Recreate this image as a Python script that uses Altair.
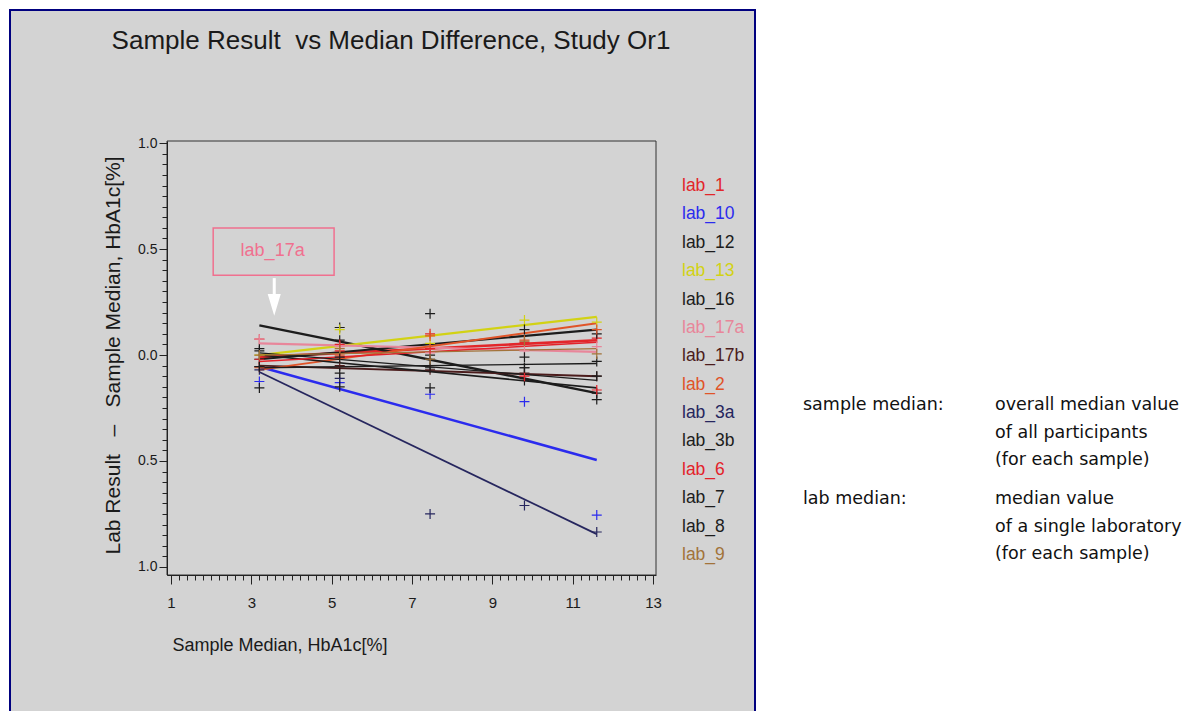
import altair as alt
import pandas as pd

# ---------------- data ----------------
labs = ["lab_1", "lab_10", "lab_12", "lab_13", "lab_16", "lab_17a", "lab_17b",
        "lab_2", "lab_3a", "lab_3b", "lab_6", "lab_7", "lab_8", "lab_9"]
sample_medians = [3.2, 5.2, 7.45, 9.8, 11.6]

# lab median - sample median, one list per sample (order as labs)
diff_s1 = [0.075, -0.125, 0.03, 0.0, -0.02, 0.075, -0.055, -0.06, -0.07, 0.02, -0.02, -0.055, -0.155, 0.0]
diff_s2 = [0.02, -0.13, 0.13, 0.12, 0.07, 0.04, -0.05, 0.0, -0.11, -0.01, 0.05, -0.085, -0.15, 0.03]
diff_s3 = [0.10, -0.185, 0.195, 0.055, 0.0, 0.01, -0.07, 0.09, -0.75, -0.155, 0.03, -0.06, -0.02, -0.02]
diff_s4 = [0.06, -0.22, -0.06, 0.165, 0.12, 0.02, -0.085, 0.07, -0.71, -0.12, -0.10, -0.01, -0.06, 0.065]
diff_s5 = [0.08, -0.755, -0.21, 0.155, 0.10, 0.04, -0.10, 0.12, -0.835, -0.18, -0.165, -0.03, -0.10, 0.005]

# fitted line values at first and last sample median
fit_start = [-0.01, -0.055, 0.14, 0.0, -0.02, 0.055, -0.05, -0.07, -0.08, 0.0, -0.03, -0.06, 0.01, 0.0]
fit_end = [0.07, -0.495, -0.18, 0.18, 0.12, 0.015, -0.10, 0.15, -0.845, -0.155, 0.06, -0.04, -0.12, 0.03]

# annotation (data coordinates)
callout_label = "lab_17a"
callout_box_x = [2.05, 5.06]
callout_box_y = [0.377, 0.60]
callout_text_pos = [3.53, 0.49]
arrow_x = 3.57
arrow_shaft_y = [0.363, 0.275]
arrow_head_y = 0.243

title_text = "Sample Result \u00a0vs Median Difference, Study Or1"
x_title = "Sample Median, HbA1c[%]"
y_title = "Lab Result \u00a0\u00a0\u2013 \u00a0\u00a0Sample Median, HbA1c[%]"
note_sample_key = "sample median:"
note_sample_text = "overall median value\nof all participants\n(for each sample)"
note_lab_key = "lab median:"
note_lab_text = "median value\nof a single laboratory\n(for each sample)"

# ---------------- styles ----------------
lab_colors = ["#e2262a", "#2b2bee", "#1c1c1c", "#d2d214", "#1c1c1c", "#e8869a", "#4b1c1c",
              "#e05428", "#26265e", "#1c1c1c", "#e3222a", "#1c1c1c", "#1c1c1c", "#a2733a"]
line_widths = [2.6, 1.2, 1.2, 1.2, 1.2, 1.2, 1.6, 1.2, 1.2, 1.2, 1.8, 1.2, 1.2, 1.2]
FONT = "Liberation Sans, Arial, sans-serif"
NOTE_FONT = "DejaVu Sans"
PANEL = "#d3d3d3"
PINK = "#f0708f"
W, H = 489, 434
OX, OY = 167, 141  # plot origin in page pixels

# ---------------- tables ----------------
pts = []
for s, col in zip(sample_medians, [diff_s1, diff_s2, diff_s3, diff_s4, diff_s5]):
    for lab, v in zip(labs, col):
        pts.append({"lab": lab, "x": s, "y": v})
pts = pd.DataFrame(pts)

fit = []
for lab, a, b in zip(labs, fit_start, fit_end):
    fit.append({"lab": lab, "x": sample_medians[0], "y": a})
    fit.append({"lab": lab, "x": sample_medians[-1], "y": b})
fit = pd.DataFrame(fit)

legend_df = pd.DataFrame({"lab": labs})
one = pd.DataFrame({"k": [0]})
box_df = pd.DataFrame({"x": [callout_box_x[0]], "x2": [callout_box_x[1]],
                       "y": [callout_box_y[0]], "y2": [callout_box_y[1]]})
ctext_df = pd.DataFrame({"x": [callout_text_pos[0]], "y": [callout_text_pos[1]], "t": [callout_label]})
shaft_df = pd.DataFrame({"x": [arrow_x], "y": [arrow_shaft_y[0]], "y2": [arrow_shaft_y[1]]})
head_df = pd.DataFrame({"x": [arrow_x], "y": [arrow_head_y]})

# ---------------- scales / axes ----------------
xs = alt.Scale(domain=[0.9, 13.075], nice=False, zero=False)
ys = alt.Scale(domain=[-1.038, 1.01], nice=False, zero=False)
color_scale = alt.Scale(domain=labs, range=lab_colors)

x_vals = [round(1 + 0.2 * i, 1) for i in range(61)]
y_vals = [round(-1 + 0.05 * i, 2) for i in range(41)]
x_major = "abs((datum.value-1)/2 - round((datum.value-1)/2)) < 0.001"
y_major = "abs(datum.value*2 - round(datum.value*2)) < 0.001"

x_axis = alt.Axis(
    values=x_vals, title=x_title, grid=False, zindex=1,
    labelExpr=f"{x_major} ? format(datum.value, '.0f') : ''",
    tickSize={"condition": {"test": x_major, "value": 9}, "value": 5},
    labelOverlap=False, labelFlush=False, labelPadding=11,
    labelFont=FONT, labelFontSize=15, labelColor="#1a1a1a",
    tickColor="#222", domainColor="#222",
    titleFont=FONT, titleFontSize=18, titleFontWeight="normal", titleColor="#1a1a1a",
    titleX=5, titleY=61, titleAlign="left", titleBaseline="top",
)
y_axis = alt.Axis(
    values=y_vals, title=y_title, grid=False, zindex=1,
    labelExpr=f"{y_major} ? format(abs(datum.value), '.1f') : ''",
    tickSize={"condition": {"test": y_major, "value": 8}, "value": 5},
    labelOverlap=False, labelFlush=False, labelPadding=2,
    labelFont=FONT, labelFontSize=14, labelColor="#1a1a1a",
    tickColor="#222", domainColor="#222",
    titleFont=FONT, titleFontSize=21, titleFontWeight="normal", titleColor="#1a1a1a",
    titleX=-48, titleY=H / 2 - 3, titleAlign="center", titleBaseline="alphabetic", titleAngle=270,
)

def X(f="x"):
    return alt.X(f"{f}:Q", scale=xs, axis=x_axis)

def Y(f="y"):
    return alt.Y(f"{f}:Q", scale=ys, axis=y_axis)

# ---------------- layers ----------------
panel = alt.Chart(one).mark_rect(fill=PANEL, stroke="#00007f", strokeWidth=2).encode(
    x=alt.value(10 - OX), x2=alt.value(755 - OX), y=alt.value(10 - OY), y2=alt.value(740 - OY))
frame = alt.Chart(one).mark_rect(fill=None, stroke="#333", strokeWidth=1).encode(
    x=alt.value(0), x2=alt.value(W), y=alt.value(0), y2=alt.value(H))

lines = alt.Chart(fit).mark_line().encode(
    x=X(), y=Y(),
    color=alt.Color("lab:N", scale=color_scale, legend=None),
    strokeWidth=alt.StrokeWidth("lab:N", scale=alt.Scale(domain=labs, range=line_widths), legend=None),
    detail="lab:N",
)
points = alt.Chart(pts).mark_point(
    shape="M-1,0L1,0M0,-1L0,1", filled=False, size=100, strokeWidth=1.2, opacity=1
).encode(x=X(), y=Y(), color=alt.Color("lab:N", scale=color_scale, legend=None))

box = alt.Chart(box_df).mark_rect(fill=None, stroke=PINK, strokeWidth=1.5).encode(
    x=X(), x2="x2:Q", y=Y(), y2="y2:Q")
ctext = alt.Chart(ctext_df).mark_text(font=FONT, fontSize=18, color=PINK, align="center",
                                      baseline="middle").encode(x=X(), y=Y(), text="t:N")
shaft = alt.Chart(shaft_df).mark_rule(color="white", strokeWidth=3).encode(x=X(), y=Y(), y2="y2:Q")
head = alt.Chart(head_df).mark_point(shape="M-0.6,-1L0.6,-1L0,1Z", filled=True, fill="white",
                                     stroke="white", size=300, opacity=1).encode(x=X(), y=Y())

title = alt.Chart(one).mark_text(text=title_text, font=FONT, fontSize=26, color="#1a1a1a",
                                 align="center", baseline="alphabetic").encode(
    x=alt.value(391 - OX), y=alt.value(49 - OY))


def note(txt, px, py):
    return alt.Chart(one).mark_text(text=txt, lineBreak="\n", lineHeight=27.7, font=NOTE_FONT,
                                    fontSize=17.5, color="#111", align="left", baseline="top").encode(
        x=alt.value(px - OX), y=alt.value(py - OY))


notes = [note(note_sample_key, 803, 396), note(note_sample_text, 995, 396),
         note(note_lab_key, 803, 490), note(note_lab_text, 995, 490)]

main = alt.layer(panel, frame, lines, points, box, ctext, shaft, head, title, *notes)

legend = alt.Chart(legend_df).mark_text(font=FONT, fontSize=17.5, align="left", baseline="middle").encode(
    x=alt.value(682 - OX),
    y=alt.Y("lab:N", sort=labs, axis=None,
            scale=alt.Scale(type="point", range=[186 - OY, 555 - OY], padding=0)),
    text="lab:N",
    color=alt.Color("lab:N", scale=color_scale, legend=None),
)

chart = alt.layer(main, legend).resolve_scale(y="independent").properties(
    width=W, height=H,
    autosize="none",
    padding={"left": OX, "top": OY, "right": 1201 - OX - W, "bottom": 711 - OY - H},
    background="white",
).configure_view(stroke=None)

chart.save("out.html", embed_options={"renderer": "svg", "actions": False})
